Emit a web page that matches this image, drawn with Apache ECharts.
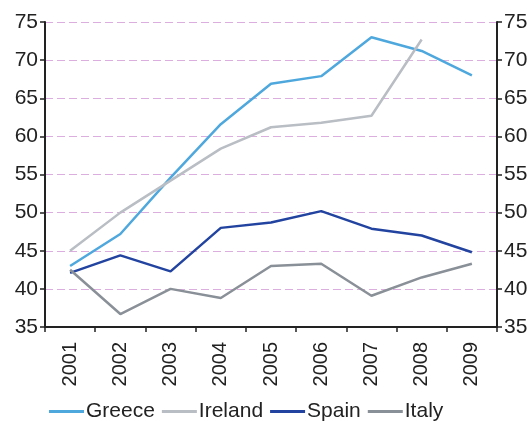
<!DOCTYPE html>
<html><head><meta charset="utf-8">
<script src="https://cdn.jsdelivr.net/npm/echarts@6/dist/echarts.min.js"></script>
<style>html,body{margin:0;padding:0;background:#fff}#c{width:532px;height:421px}</style>
</head><body><div id="c"></div>
<script>
const years = ['2001','2002','2003','2004','2005','2006','2007','2008','2009'];
const greece = [43.0, 47.2, 54.6, 61.6, 66.9, 67.9, 73.0, 71.2, 68.0];
const ireland = [45.0, 50.0, 54.2, 58.4, 61.2, 61.8, 62.7, 72.7, null];
const spain = [42.1, 44.4, 42.3, 48.0, 48.7, 50.2, 47.9, 47.0, 44.8];
const italy = [42.5, 36.7, 40.0, 38.8, 43.0, 43.3, 39.1, 41.5, 43.3];
const yTicks = {min: 35, max: 75, interval: 5};

const font = 'Liberation Sans, Arial, sans-serif';
const axisLine = {show: true, lineStyle: {color: '#222', width: 2}};
const mk = (name, data, color) => ({
  name, type: 'line', data, symbol: 'none', yAxisIndex: 0,
  lineStyle: {color, width: 2.5}, itemStyle: {color}, connectNulls: false
});
const chart = echarts.init(document.getElementById('c'), null, {renderer: 'canvas'});
chart.setOption({
  animation: false,
  grid: {left: 45, right: 35, top: 22, bottom: 94, containLabel: false},
  legend: {
    top: 396, left: 44, itemWidth: 35, itemHeight: 3, itemGap: 7, icon: 'rect',
    textStyle: {fontFamily: font, fontSize: 21, color: '#222', padding: [0,0,0,-3]},
    data: ['Greece','Ireland','Spain','Italy']
  },
  xAxis: {
    type: 'category', data: years, boundaryGap: true,
    axisLine, axisTick: {show: true, length: 5, lineStyle: {color: '#222', width: 1.5}},
    axisLabel: {rotate: 90, fontFamily: font, fontSize: 20, color: '#222', margin: 15}
  },
  yAxis: [
    {type: 'value', position: 'left', ...yTicks, axisLine,
     axisTick: {show: true, length: 5, lineStyle: {color: '#222', width: 1.5}},
     axisLabel: {fontFamily: font, fontSize: 21, color: '#222', margin: 7},
     splitLine: {show: true, lineStyle: {color: '#dcaedf', type: [8, 4], width: 1}}},
    {type: 'value', position: 'right', ...yTicks, axisLine,
     axisTick: {show: true, length: 5, lineStyle: {color: '#222', width: 1.5}},
     axisLabel: {fontFamily: font, fontSize: 21, color: '#222', margin: 7},
     splitLine: {show: false}}
  ],
  series: [
    mk('Greece', greece, '#4fa8dd'),
    mk('Ireland', ireland, '#b9bdc4'),
    mk('Spain', spain, '#2244a0'),
    mk('Italy', italy, '#8a9097')
  ]
});
</script></body></html>
